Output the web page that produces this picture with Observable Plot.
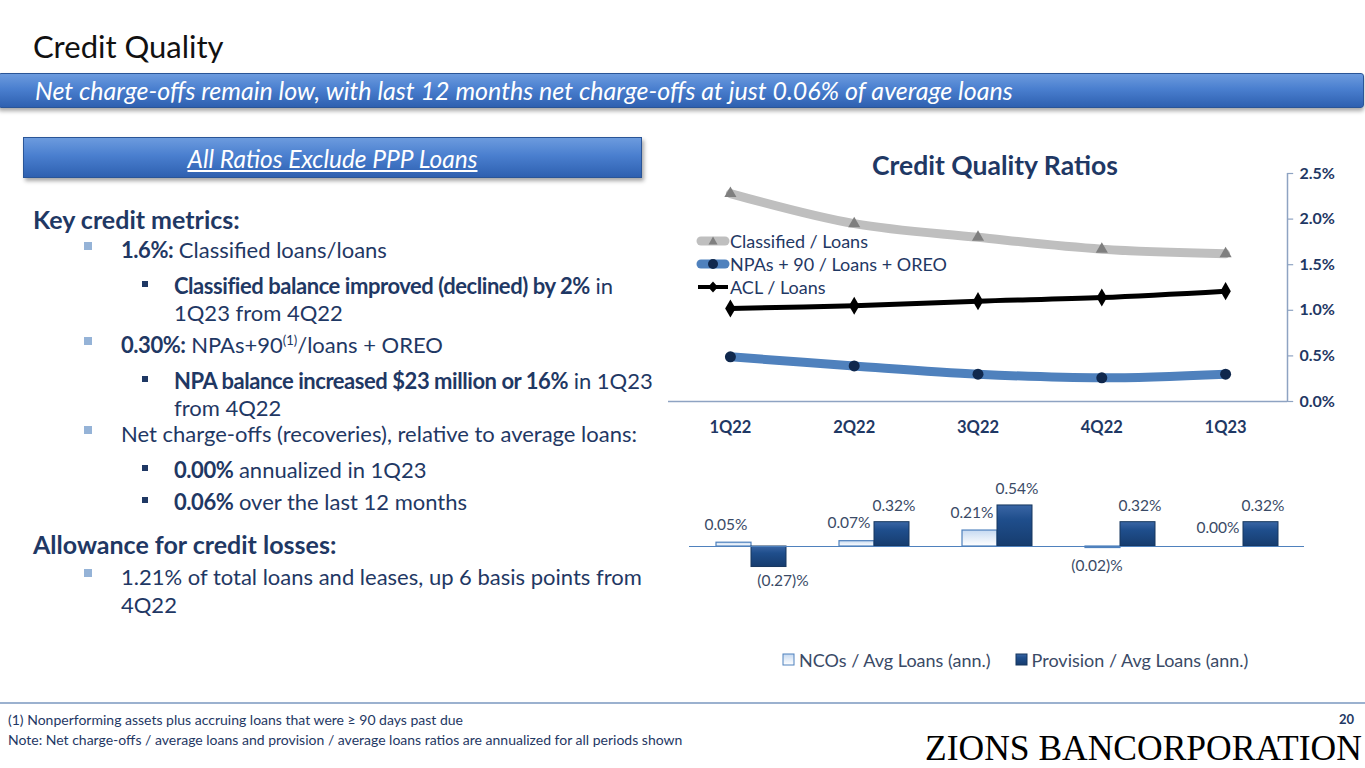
<!DOCTYPE html>
<html>
<head>
<meta charset="utf-8">
<script src="https://cdn.jsdelivr.net/npm/d3@7"></script>
<script src="https://cdn.jsdelivr.net/npm/@observablehq/plot@0.6"></script>
<style>
  html, body { margin:0; padding:0; background:#fff; }
  body { width:1365px; height:768px; position:relative; overflow:hidden; font-family: Lato, "Open Sans", sans-serif; color:#1F3864; }
  .abs { position:absolute; white-space:nowrap; }
  #title { left:33px; top:26px; font-size:31px; color:#111; line-height:40px; }
  #banner { left:-2px; top:73px; width:1364px; height:33px; border:1px solid #2A5597; border-radius:3px;
    background:linear-gradient(#6C9BDE 0%, #4A7FCF 45%, #2E60B0 100%); box-shadow:0 3px 4px rgba(0,0,0,0.35); }
  #banner span { position:absolute; left:36px; top:0; line-height:33px; font-size:25px; font-style:italic; color:#fff; }
  #box { left:23px; top:137px; width:617px; height:39px; border:1px solid #2A5597;
    background:linear-gradient(#6C9BDE 0%, #4A7FCF 45%, #2E60B0 100%); box-shadow:2px 3px 4px rgba(0,0,0,0.35); }
  #box span { position:absolute; left:0; width:100%; text-align:center; line-height:41px; font-size:24.5px; font-style:italic; text-decoration:underline; color:#fff; }
  .h { font-size:25px; font-weight:bold; left:33px; line-height:26px; }
  .l1 { font-size:22px; left:121px; line-height:26px; }
  .l2 { font-size:22px; left:174px; line-height:26px; }
  .l1 b, .l2 b { letter-spacing:-0.45px; }
  .b1 { position:absolute; left:84px; width:8px; height:8px; background:#95B3D7; }
  .b2 { position:absolute; left:142px; width:6px; height:6px; background:#1F3864; }
  sup { font-size:13px; line-height:0; }
  #chartTitle { left:855px; top:149px; width:280px; text-align:center; font-size:26.5px; font-weight:bold; color:#1F3864; }
  .lg { font-size:18px; color:#1F3864; line-height:22px; }
  #footline { left:0; top:702px; width:1365px; height:2px; background:#9BB1CF; }
  .fn { left:8px; font-size:14px; color:#1F3864; line-height:16px; }
  #pg { left:1339px; top:711px; font-size:13px; font-weight:bold; color:#1F3864; }
  #logo { left:925px; top:728px; font-family:"Liberation Serif", "DejaVu Serif", serif; font-size:35.5px; color:#000; letter-spacing:0px; line-height:40px; }
</style>
</head>
<body>
<svg width="0" height="0" style="position:absolute">
  <defs>
    <linearGradient id="gNco" x1="0" x2="0" y1="0" y2="1">
      <stop offset="0" stop-color="#C6D9F1"/>
      <stop offset="0.5" stop-color="#E4EDF8"/>
      <stop offset="1" stop-color="#FFFFFF"/>
    </linearGradient>
    <linearGradient id="gProv" x1="0" x2="0" y1="0" y2="1">
      <stop offset="0" stop-color="#3A66A5"/>
      <stop offset="0.35" stop-color="#1F4E8C"/>
      <stop offset="1" stop-color="#163C6E"/>
    </linearGradient>
  </defs>
</svg>

<div id="title" class="abs">Credit Quality</div>
<div id="banner" class="abs"><span>Net charge-offs remain low, with last 12 months net charge-offs at just 0.06% of average loans</span></div>
<div id="box" class="abs"><span>All Ratios Exclude PPP Loans</span></div>

<div class="abs h" style="top:206px">Key credit metrics:</div>
<div class="b1" style="top:242px"></div>
<div class="abs l1" style="top:237px"><b>1.6%:</b> Classified loans/loans</div>
<div class="b2" style="top:281px"></div>
<div class="abs l2" style="top:273px"><b>Classified balance improved (declined) by 2%</b> in</div>
<div class="abs l2" style="top:300px">1Q23 from 4Q22</div>
<div class="b1" style="top:337px"></div>
<div class="abs l1" style="top:332px"><b>0.30%:</b> NPAs+90<sup>(1)</sup>/loans + OREO</div>
<div class="b2" style="top:376px"></div>
<div class="abs l2" style="top:368px"><b>NPA balance increased $23 million or 16%</b> in 1Q23</div>
<div class="abs l2" style="top:395px">from 4Q22</div>
<div class="b1" style="top:426px"></div>
<div class="abs l1" style="top:421px">Net charge-offs (recoveries), relative to average loans:</div>
<div class="b2" style="top:465px"></div>
<div class="abs l2" style="top:457px"><b>0.00%</b> annualized in 1Q23</div>
<div class="b2" style="top:497px"></div>
<div class="abs l2" style="top:489px"><b>0.06%</b> over the last 12 months</div>
<div class="abs h" style="top:531px">Allowance for credit losses:</div>
<div class="b1" style="top:569px"></div>
<div class="abs l1" style="top:564px">1.21% of total loans and leases, up 6 basis points from</div>
<div class="abs l1" style="top:592px">4Q22</div>

<div id="chartTitle" class="abs">Credit Quality Ratios</div>
<div id="lineChart" class="abs" style="left:660px; top:140px;"></div>
<div id="legend1" class="abs" style="left:696px; top:229px;"></div>
<div id="barChart" class="abs" style="left:660px; top:470px;"></div>
<div id="legend2" class="abs" style="left:782px; top:649px;"></div>

<div id="footline" class="abs"></div>
<div class="abs fn" style="top:712px">(1) Nonperforming assets plus accruing loans that were ≥ 90 days past due</div>
<div class="abs fn" style="top:732px">Note: Net charge-offs / average loans and provision / average loans ratios are annualized for all periods shown</div>
<div id="pg" class="abs">20</div>
<div id="logo" class="abs">ZIONS BANCORPORATION</div>

<script>
// ---- data ----
const quarters = ["1Q22", "2Q22", "3Q22", "4Q22", "1Q23"];
const classifiedLoans = [2.28, 1.95, 1.80, 1.67, 1.62];
const npaLoans = [0.49, 0.39, 0.30, 0.26, 0.30];
const aclLoans = [1.02, 1.05, 1.10, 1.14, 1.21];
const yTicks = [0, 0.5, 1.0, 1.5, 2.0, 2.5];
const ncoAvg = [0.05, 0.07, 0.21, -0.02, 0.00];
const provisionAvg = [-0.27, 0.32, 0.54, 0.32, 0.32];
const lineSeries = ["Classified / Loans", "NPAs + 90 / Loans + OREO", "ACL / Loans"];
const barSeries = ["NCOs / Avg Loans (ann.)", "Provision / Avg Loans (ann.)"];

const navy = "#1F3864";
const axisCol = "#8EA3C2";

const rows = (vals) => quarters.map((q, i) => ({x: i, q, v: vals[i]}));
const cls = rows(classifiedLoans), npa = rows(npaLoans), acl = rows(aclLoans);
const xEnd = quarters.length - 0.5;

const line = Plot.plot({
  width: 705, height: 300,
  marginLeft: 8, marginRight: 78, marginTop: 33, marginBottom: 39,
  x: {type: "linear", domain: [-0.5, xEnd], axis: null},
  y: {domain: [0, 2.5], axis: null},
  style: {fontFamily: "Lato, sans-serif", overflow: "visible"},
  marks: [
    Plot.ruleY([0], {stroke: axisCol, strokeWidth: 1.5}),
    Plot.ruleX([xEnd], {stroke: axisCol, strokeWidth: 1.5}),
    Plot.ruleY(yTicks, {y: d => d, x1: xEnd, x2: xEnd + 0.05, stroke: axisCol, strokeWidth: 1.2}),
    Plot.text(yTicks, {x: xEnd, y: d => d, text: d => d.toFixed(1) + "%", textAnchor: "start", dx: 12, fill: navy, fontSize: 16, fontWeight: "bold"}),
    Plot.text(quarters, {x: (d, i) => i, y: 0, text: d => d, dy: 26, fill: navy, fontSize: 16.5, fontWeight: "bold"}),
    Plot.line(cls, {x: "x", y: "v", stroke: "#BFBFBF", strokeWidth: 9, curve: "catmull-rom", strokeLinecap: "round"}),
    Plot.dot(cls, {x: "x", y: "v", symbol: "triangle", r: 4.5, fill: "#7F7F7F", stroke: "none"}),
    Plot.line(npa, {x: "x", y: "v", stroke: "#4F81BD", strokeWidth: 9, curve: "catmull-rom", strokeLinecap: "round"}),
    Plot.dot(npa, {x: "x", y: "v", r: 5.5, fill: "#10284D", stroke: "none"}),
    Plot.line(acl, {x: "x", y: "v", stroke: "#000", strokeWidth: 5, curve: "catmull-rom"}),
    Plot.dot(acl, {x: "x", y: "v", symbol: "diamond", r: 5.5, fill: "#000", stroke: "none"})
  ]
});
document.getElementById("lineChart").appendChild(line);

// legend for line chart
const swatch = (i) => {
  if (i === 0) return `<svg width="34" height="14"><line x1="5" y1="7" x2="29" y2="7" stroke="#BFBFBF" stroke-width="9" stroke-linecap="round"/><path d="M17 2.5 L21.5 10.5 L12.5 10.5Z" fill="#7F7F7F"/></svg>`;
  if (i === 1) return `<svg width="34" height="14"><line x1="5" y1="7" x2="29" y2="7" stroke="#4F81BD" stroke-width="9" stroke-linecap="round"/><circle cx="17" cy="7" r="5" fill="#10284D"/></svg>`;
  return `<svg width="34" height="14"><line x1="2" y1="7" x2="32" y2="7" stroke="#000" stroke-width="4"/><path d="M17 1.5 L22 7 L17 12.5 L12 7Z" fill="#000"/></svg>`;
};
document.getElementById("legend1").innerHTML = lineSeries.map((s, i) =>
  `<div class="lg" style="display:flex;align-items:center;height:23px">${swatch(i)}<span>${s}</span></div>`).join("");

// bar chart
const barData = quarters.flatMap((q, i) => [
  {q, s: "nco", v: ncoAvg[i]},
  {q, s: "prov", v: provisionAvg[i]}
]);
const fmt = v => v < 0 ? "(" + Math.abs(v).toFixed(2) + ")%" : v.toFixed(2) + "%";
const labelCol = "#3A4A66";
const bars = Plot.plot({
  width: 705, height: 152,
  marginLeft: 27, marginRight: 60, marginTop: 0, marginBottom: 0,
  fx: {domain: quarters, padding: 0, axis: null, label: null},
  x: {domain: ["nco", "prov"], paddingInner: 0, paddingOuter: 0.715, axis: null},
  y: {domain: [-1, 1], axis: null},
  style: {fontFamily: "Lato, sans-serif", overflow: "visible"},
  marks: [
    Plot.barY(barData.filter(d => d.s === "nco"), {fx: "q", x: "s", y: "v", fill: "url(#gNco)", stroke: "#4F81BD", strokeWidth: 1.2, inset: 0}),
    Plot.barY(barData.filter(d => d.s === "prov"), {fx: "q", x: "s", y: "v", fill: "url(#gProv)", stroke: "#17375E", strokeWidth: 1, inset: 0}),
    Plot.ruleY([0], {stroke: "#4F81BD", strokeWidth: 1.2}),
    Plot.text(barData.filter(d => d.s === "nco" && d.v >= 0), {fx: "q", x: "s", y: "v", text: d => fmt(d.v), dy: -18, dx: -8, fill: labelCol, fontSize: 15.5}),
    Plot.text(barData.filter(d => d.s === "nco" && d.v < 0), {fx: "q", x: "s", y: "v", text: d => fmt(d.v), dy: 18, dx: -6, fill: labelCol, fontSize: 15.5}),
    Plot.text(barData.filter(d => d.s === "prov" && d.v >= 0), {fx: "q", x: "s", y: "v", text: d => fmt(d.v), dy: -16, dx: 2, fill: labelCol, fontSize: 15.5}),
    Plot.text(barData.filter(d => d.s === "prov" && d.v < 0), {fx: "q", x: "s", y: "v", text: d => fmt(d.v), dy: 14, dx: 14, fill: labelCol, fontSize: 15.5})
  ]
});
document.getElementById("barChart").appendChild(bars);

const sw2 = (i) => i === 0
  ? `<svg width="14" height="14" style="margin-right:3px"><rect x="1" y="1" width="11" height="11" fill="url(#gNco)" stroke="#4F81BD"/></svg>`
  : `<svg width="14" height="14" style="margin-right:3px"><rect x="1" y="1" width="11" height="11" fill="url(#gProv)" stroke="#17375E"/></svg>`;
document.getElementById("legend2").innerHTML = `<div class="lg" style="display:flex;align-items:center;color:#3A4A66">` +
  barSeries.map((s, i) => `${sw2(i)}<span style="margin-right:${i === 0 ? 24 : 0}px">${s}</span>`).join("") + `</div>`;
</script>
</body>
</html>
